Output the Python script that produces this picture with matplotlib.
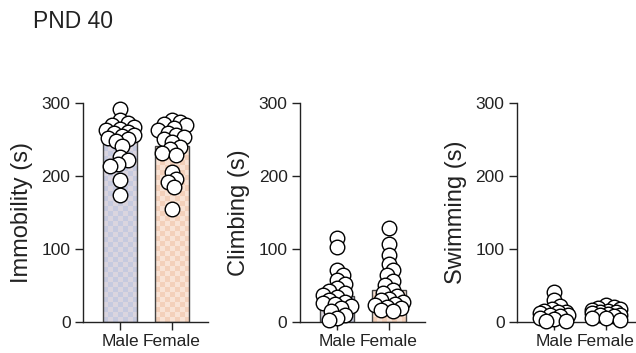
import numpy as np
import matplotlib
matplotlib.use("Agg")
import matplotlib.pyplot as plt

plt.rcParams['font.family'] = ['Liberation Sans', 'DejaVu Sans']

# --- data ---
groups = ["Male", "Female"]
measures = ["Immobility (s)", "Climbing (s)", "Swimming (s)"]

bar_means = {
    "Immobility (s)": [247, 241],
    "Climbing (s)": [36, 44],
    "Swimming (s)": [12, 11],
}

points = {
    "Immobility (s)": [
        [292, 276, 272, 270, 267, 264, 262, 260, 258, 256, 254, 252, 250, 248,
         241, 226, 221, 216, 213, 194, 174],
        [276, 274, 271, 269, 266, 263, 259, 256, 253, 250, 246, 240, 236, 231,
         228, 205, 196, 192, 184, 155],
    ],
    "Climbing (s)": [
        [115, 102, 71, 64, 57, 52, 46, 42, 40, 37, 34, 30, 28, 26, 24, 22, 19,
         15, 10, 5, 3],
        [128, 107, 91, 80, 71, 64, 56, 50, 44, 40, 35, 32, 30, 27, 25, 23, 21,
         19, 17, 15],
    ],
    "Swimming (s)": [
        [41, 30, 22, 18, 15, 14, 13, 12, 10, 9, 8, 6, 4, 2, 1],
        [23, 21, 19, 18, 16, 15, 14, 13, 12, 11, 10, 9, 8, 6, 5, 3],
    ],
}

yticks = [0, 100, 200, 300]

# checker colours for the bar fill
checker = [("#c6cadf", "#dad5df"), ("#f3d0ba", "#f9e3d5")]
ink = "#222222"

# --- layout (pixels -> figure fractions) ---
W, H = 636, 353
fig = plt.figure(figsize=(W / 100, H / 100), dpi=100)
lefts = [83, 300, 517]
ax_w = 125
bottom, top = 322, 102.7
px_per_x = 52.0
px_per_y = (bottom - top) / 300.0
diam = 15.0


def swarm(vals, max_off=14.0, min_gap=0.5):
    """simple beeswarm offsets in pixels, overlap allowed"""
    order = np.argsort(vals)[::-1]
    placed = []
    offs = np.zeros(len(vals))
    cands = np.concatenate([[0], np.ravel([[s, -s] for s in np.arange(2, max_off + 0.1, 2)])])
    for i in order:
        yi = vals[i] * px_per_y
        best, best_cost = 0.0, None
        for c in cands:
            cost = 0.0
            for (xp, yp) in placed:
                d = np.hypot(c - xp, yi - yp)
                if d < diam * min_gap:
                    cost += diam * min_gap - d
            if cost == 0:
                best, best_cost = c, 0
                break
            if best_cost is None or cost < best_cost:
                best, best_cost = c, cost
        offs[i] = best
        placed.append((best, yi))
    return offs / px_per_x


for k, m in enumerate(measures):
    ax = fig.add_axes([lefts[k] / W, 1 - bottom / H, ax_w / W, (bottom - top) / H])
    ax.set_xlim(-37 / px_per_x, -37 / px_per_x + ax_w / px_per_x)
    ax.set_ylim(0, 300)

    bars = ax.bar([0, 1], bar_means[m], width=0.67, facecolor="none",
                  edgecolor="#444444", linewidth=1.0, zorder=2)
    for j, b in enumerate(bars):
        x0, w, h = b.get_x(), b.get_width(), b.get_height()
        nx = max(1, int(round(w * px_per_x / 5)))
        ny = max(1, int(round(h * px_per_y / 5)))
        pat = (np.add.outer(np.arange(ny), np.arange(nx)) % 2).astype(float)
        cmap = matplotlib.colors.ListedColormap(list(checker[j]))
        im = ax.imshow(pat, cmap=cmap, extent=(x0, x0 + w, 0, h), origin="lower",
                       aspect="auto", interpolation="nearest", zorder=1)
        im.set_clip_path(b)

    for j in range(2):
        v = np.array(points[m][j], dtype=float)
        xo = swarm(v)
        ax.scatter(j + xo, v, s=110, facecolor="white", edgecolor="black",
                   linewidth=1.0, zorder=3, clip_on=False)

    ax.set_xticks([0, 1])
    ax.set_xticklabels(groups)
    ax.set_yticks(yticks)
    ax.set_ylabel(m, fontsize=17, color=ink, labelpad=6)
    for s in ["top", "right"]:
        ax.spines[s].set_visible(False)
    for s in ["left", "bottom"]:
        ax.spines[s].set_color(ink)
        ax.spines[s].set_linewidth(1.0)
    ax.tick_params(axis="both", length=6, width=1.0, color=ink, labelsize=12.5,
                   labelcolor=ink, pad=3)
    ax.set_aspect("auto")

fig.text(33 / W, 1 - 28 / H, "PND 40", fontsize=16.5, color=ink, va="baseline")

fig.savefig("out.png", dpi=100)
